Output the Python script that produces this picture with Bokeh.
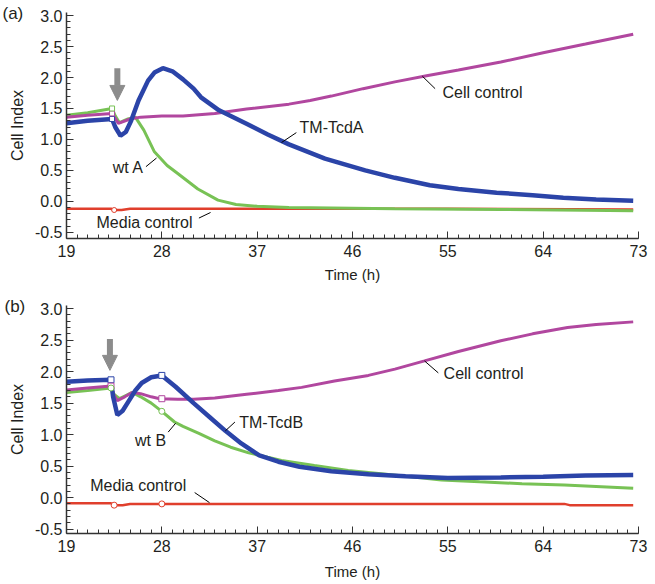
from bokeh.plotting import figure
from bokeh.layouts import column
from bokeh.models import Label, Arrow, NormalHead, FixedTicker, Range1d, Title
from bokeh.embed import file_html
from bokeh.resources import INLINE

# ---------------- data: panel (a) ----------------
ta_cell = [19, 21, 23.3, 23.9, 25, 26, 28, 30, 33, 36, 40, 42, 44, 47, 50, 53, 56, 60, 64, 68, 72.5]
va_cell = [1.36, 1.39, 1.42, 1.26, 1.33, 1.36, 1.38, 1.38, 1.42, 1.49, 1.57, 1.63, 1.7, 1.82, 1.93, 2.03, 2.12, 2.25, 2.4, 2.54, 2.7]
ta_tcd = [19, 21, 23.3, 23.6, 24.1, 24.6, 25.1, 25.8, 26.7, 27.3, 28.1, 29, 30, 31, 31.7, 33.4, 35.9, 38, 40, 43.4, 47.2, 50, 53.3, 56, 59.6, 63, 65.9, 69, 72.5]
va_tcd = [1.26, 1.3, 1.33, 1.2, 1.06, 1.12, 1.3, 1.63, 1.95, 2.08, 2.15, 2.1, 1.97, 1.82, 1.68, 1.47, 1.26, 1.08, 0.92, 0.69, 0.5, 0.38, 0.26, 0.2, 0.14, 0.1, 0.06, 0.03, 0.01]
ta_wt = [19, 21, 23.3, 23.6, 24, 24.8, 25.5, 26.3, 27.3, 28.5, 29.5, 31.4, 33.3, 35, 37, 40, 50, 60, 72.5]
va_wt = [1.39, 1.43, 1.5, 1.38, 1.27, 1.33, 1.36, 1.15, 0.8, 0.58, 0.45, 0.2, 0.02, -0.05, -0.08, -0.1, -0.12, -0.13, -0.15]
ta_med = [19, 23.2, 23.5, 24.2, 25, 40, 55, 72.5]
va_med = [-0.12, -0.12, -0.14, -0.14, -0.12, -0.12, -0.12, -0.13]
ta_mark_t = [23.3, 23.3, 23.3, 23.5]
ta_mark_v = [1.33, 1.42, 1.5, -0.14]

# ---------------- data: panel (b) ----------------
tb_cell = [19, 21, 23.2, 23.5, 23.8, 24.5, 25.2, 26, 27, 27.8, 29.5, 31, 33, 36, 39, 41.2, 44.3, 47.5, 50, 52.8, 56, 60, 63, 66.3, 69, 72.5]
vb_cell = [1.71, 1.74, 1.77, 1.62, 1.54, 1.6, 1.67, 1.65, 1.6, 1.57, 1.56, 1.56, 1.58, 1.64, 1.7, 1.75, 1.85, 1.94, 2.04, 2.17, 2.32, 2.49, 2.6, 2.7, 2.75, 2.79]
tb_tcd = [19, 21, 23.2, 23.4, 23.8, 24.3, 24.9, 25.5, 26.1, 27, 28, 29.3, 31, 32.5, 34, 35.5, 37.2, 39, 41, 44, 47.5, 51, 55, 60, 64, 68, 72.5]
vb_tcd = [1.84, 1.86, 1.87, 1.6, 1.31, 1.38, 1.54, 1.7, 1.82, 1.91, 1.94, 1.76, 1.5, 1.28, 1.06, 0.86, 0.67, 0.57, 0.49, 0.42, 0.37, 0.34, 0.31, 0.32, 0.33, 0.35, 0.36]
tb_wt = [19, 21, 23.2, 23.5, 24, 24.6, 25.2, 26, 27, 28, 29.2, 30, 31.5, 33, 34.5, 36.2, 38, 39.3, 42.4, 45.6, 48.7, 51.5, 54.4, 58, 62, 66, 70, 72.5]
vb_wt = [1.67, 1.7, 1.74, 1.64, 1.57, 1.62, 1.67, 1.6, 1.5, 1.37, 1.2, 1.13, 1.02, 0.9, 0.8, 0.71, 0.64, 0.59, 0.51, 0.43, 0.38, 0.33, 0.28, 0.25, 0.22, 0.2, 0.17, 0.15]
tb_med = [19, 23.2, 23.5, 24.3, 25, 40, 55, 66, 66.5, 72.5]
vb_med = [-0.09, -0.09, -0.12, -0.12, -0.1, -0.1, -0.1, -0.1, -0.12, -0.12]
tb_mark_sq_t = [23.2, 28, 23.2, 28]
tb_mark_sq_v = [1.87, 1.94, 1.77, 1.57]
tb_mark_ci_t = [23.2, 28, 23.5, 28]
tb_mark_ci_v = [1.74, 1.37, -0.12, -0.1]

x_ticks = [19, 28, 37, 46, 55, 64, 73]
y_ticks = [-0.5, 0.0, 0.5, 1.0, 1.5, 2.0, 2.5, 3.0]

FONT = "Liberation Sans"
BLUE = "#2b44a8"
MAG = "#b1479f"
GREEN = "#78c255"
RED = "#e03f2c"
GRAY = "#8c8c8c"
TXT = "#231f20"


def base(width, height, left, right, top, bottom, ymin):
    p = figure(width=width, height=height, x_range=Range1d(19, 73), y_range=Range1d(ymin, 3.05),
               output_backend="svg", toolbar_location=None,
               min_border_left=left, min_border_right=right, min_border_top=top, min_border_bottom=bottom)
    p.outline_line_color = None
    p.xgrid.visible = False
    p.ygrid.visible = False
    p.background_fill_color = "white"
    p.border_fill_color = "white"
    p.xaxis.ticker = FixedTicker(ticks=x_ticks, minor_ticks=list(range(19, 74)))
    p.yaxis.ticker = FixedTicker(ticks=y_ticks, minor_ticks=[round(-0.5 + 0.1 * i, 2) for i in range(36)])
    p.yaxis.major_label_overrides = {v: f"{v:.1f}" for v in y_ticks}
    for ax in (p.xaxis[0], p.yaxis[0]):
        ax.axis_line_color = "#333333"
        ax.axis_line_width = 1.5
        ax.major_tick_line_color = "#333333"
        ax.minor_tick_line_color = "#333333"
        ax.major_tick_in = 7
        ax.major_tick_out = 0
        ax.minor_tick_in = 4
        ax.minor_tick_out = 0
        ax.major_label_text_font = FONT
        ax.major_label_text_font_size = "16px"
        ax.major_label_text_color = TXT
        ax.axis_label_text_font = FONT
        ax.axis_label_text_font_style = "normal"
        ax.axis_label_text_color = TXT
    p.yaxis.axis_label = "Cell Index"
    p.yaxis.axis_label_text_font_size = "16px"
    p.yaxis.major_label_standoff = 4
    p.yaxis.axis_label_standoff = 6
    p.xaxis.axis_label = "Time (h)"
    p.xaxis.axis_label_text_font_size = "15px"
    return p


def label(p, x, y, text, align="left", size="16px"):
    p.add_layout(Label(x=x, y=y, text=text, text_font=FONT, text_font_size=size,
                       text_color=TXT, text_align=align, text_baseline="middle"))


def panel_tag(p, text, offset):
    t = Title(text=text, align="left", vertical_align="bottom", offset=offset,
              text_font=FONT, text_font_size="17px", text_font_style="normal", text_color=TXT)
    try:
        t.standoff = -20
    except Exception:
        t.standoff = 0
    p.add_layout(t, "above")


# ---------------- panel (a) ----------------
pa = base(655, 290, 66, 12, 12, 52, -0.6)
pa.xaxis.major_label_standoff = 6
pa.xaxis.axis_label_standoff = 6
pa.line(ta_med, va_med, line_color=RED, line_width=2.5)
pa.line(ta_wt, va_wt, line_color=GREEN, line_width=3)
pa.line(ta_cell, va_cell, line_color=MAG, line_width=3)
pa.line(ta_tcd, va_tcd, line_color=BLUE, line_width=4.5)
pa.scatter(ta_mark_t[:3], ta_mark_v[:3], marker="square", size=5, fill_color="white",
           line_color=[BLUE, MAG, GREEN], line_width=1)
pa.scatter(ta_mark_t[3:], ta_mark_v[3:], marker="circle", size=5, fill_color="white",
           line_color=RED, line_width=1)
pa.segment(x0=[52.6, 39.3, 26.5, 31.5], y0=[2.02, 0.95, 0.56, -0.27],
           x1=[53.8, 40.7, 27.5, 32.6], y1=[1.82, 1.11, 0.7, -0.18], line_color="black", line_width=1)
label(pa, 54.5, 1.76, "Cell control")
label(pa, 41.0, 1.19, "TM-TcdA")
label(pa, 26.3, 0.55, "wt A", align="right")
label(pa, 30.9, -0.34, "Media control", align="right")
panel_tag(pa, "(a)", -64)
pa.add_layout(Arrow(end=NormalHead(size=15, fill_color=GRAY, line_color=GRAY),
                    x_start=23.8, y_start=2.15, x_end=23.8, y_end=1.63,
                    line_color=GRAY, line_width=6))

# ---------------- panel (b) ----------------
pb = base(655, 294, 64, 17, 15, 51, -0.57)
pb.xaxis.major_label_standoff = 6
pb.xaxis.axis_label_standoff = 8
pb.line(tb_med, vb_med, line_color=RED, line_width=2.5)
pb.line(tb_wt, vb_wt, line_color=GREEN, line_width=3)
pb.line(tb_cell, vb_cell, line_color=MAG, line_width=3)
pb.line(tb_tcd, vb_tcd, line_color=BLUE, line_width=4.5)
pb.scatter(tb_mark_sq_t, tb_mark_sq_v, marker="square", size=6, fill_color="white",
           line_color=[BLUE, BLUE, MAG, MAG], line_width=1)
pb.scatter(tb_mark_ci_t, tb_mark_ci_v, marker="circle", size=6, fill_color="white",
           line_color=[GREEN, GREEN, RED, RED], line_width=1)
pb.segment(x0=[52.8, 34.0, 29.3, 31.1], y0=[2.17, 1.06, 1.18, 0.08],
           x1=[54.1, 34.9, 28.6, 32.5], y1=[1.98, 1.2, 1.04, -0.08], line_color="black", line_width=1)
label(pb, 54.6, 1.97, "Cell control")
label(pb, 35.3, 1.19, "TM-TcdB")
label(pb, 28.4, 0.9, "wt B", align="right")
label(pb, 30.3, 0.19, "Media control", align="right")
panel_tag(pb, "(b)", -62)
pb.add_layout(Arrow(end=NormalHead(size=15, fill_color=GRAY, line_color=GRAY),
                    x_start=23.1, y_start=2.52, x_end=23.1, y_end=2.02,
                    line_color=GRAY, line_width=6))

layout = column(pa, pb, spacing=0)
open("out.html", "w").write(file_html(layout, INLINE))
